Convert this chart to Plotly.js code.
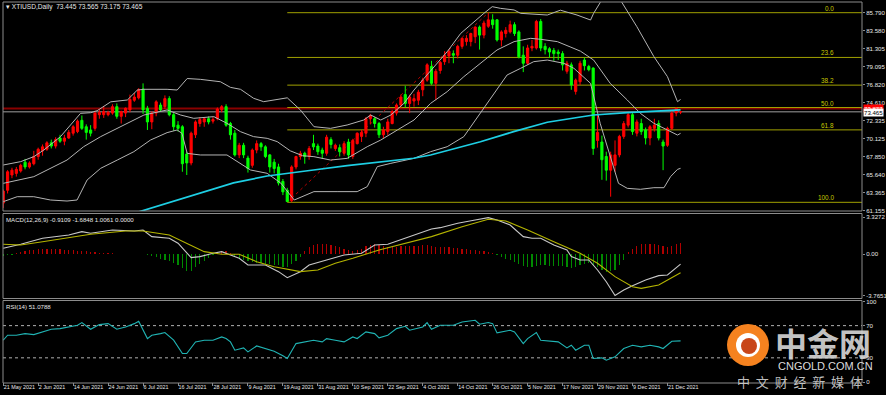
<!DOCTYPE html>
<html><head><meta charset="utf-8">
<script src="https://cdn.plot.ly/plotly-3.0.1.min.js"></script>
<style>html,body{margin:0;padding:0;background:#000;overflow:hidden}#chart{width:886px;height:395px}</style>
</head><body><div id="chart"></div>
<script>
// ---------- DATA ----------
const symbolTitle = "XTIUSD,Daily  73.445 73.565 73.175 73.465";
const macdTitle = "MACD(12,26,9) -0.9109 -1.6848 1.0061 0.0000";
const rsiTitle = "RSI(14) 51.0788";
const dateLabels = ["21 May 2021","2 Jun 2021","14 Jun 2021","24 Jun 2021","6 Jul 2021","16 Jul 2021","28 Jul 2021","9 Aug 2021","19 Aug 2021","31 Aug 2021","10 Sep 2021","22 Sep 2021","4 Oct 2021","14 Oct 2021","26 Oct 2021","5 Nov 2021","17 Nov 2021","29 Nov 2021","9 Dec 2021","21 Dec 2021"];
const dateLabelIdx = [0,8,16,24,32,40,48,56,64,72,80,88,96,104,112,120,128,136,144,152];
const priceTicks = [85.79,83.58,81.305,79.095,76.82,74.61,72.335,70.125,67.85,65.64,63.365,61.155];
const priceTickText = ["85.790","83.580","81.305","79.095","76.820","74.610","72.335","70.125","67.850","65.640","63.365","61.155"];
const macdTicks = [3.3272,0,-3.7651];
const macdTickText = ["3.3272","0.00","-3.7651"];
const rsiTicks = [100,70,30,0];
const rsiTickText = ["100","70","30","0"];

const openP = [62.1,63.7,65.6,65.8,66.1,67.2,66.6,67.0,67.9,68.6,68.8,69.6,69.2,70.2,69.8,70.2,70.8,71.0,72.4,71.6,
71.2,71.4,73.1,73.1,73.1,73.3,74.1,72.9,73.3,73.7,74.9,75.2,76.3,73.9,72.2,73.3,74.3,74.1,75.1,73.1,
71.8,71.6,68.2,67.1,70.6,72.0,72.2,72.6,72.3,72.6,73.7,74.1,72.0,70.8,68.1,69.3,67.7,66.8,68.7,69.5,
69.1,68.1,67.2,66.6,64.8,63.7,62.4,66.6,67.9,68.3,67.9,69.5,69.2,68.7,68.3,70.0,68.9,69.0,68.3,69.7,
67.9,69.5,70.4,70.8,72.6,72.6,72.0,70.6,71.0,72.0,73.3,74.3,75.6,74.5,74.8,74.9,76.2,77.4,79.1,77.0,
78.6,79.7,80.4,80.7,80.5,81.6,82.2,82.2,82.8,84.0,83.0,84.1,84.9,84.9,82.4,83.2,83.4,84.3,83.4,80.5,
79.5,81.4,81.4,84.7,81.6,81.3,81.1,80.9,80.7,78.5,79.3,76.0,77.2,79.9,79.1,78.9,69.9,69.7,67.9,66.2,
66.8,68.1,70.4,71.8,73.1,70.8,72.0,71.2,70.2,71.4,72.0,69.7,69.3,71.4,73.3,73.445];
const highP = [63.8,66.2,66.5,66.6,67.0,67.6,67.3,68.6,69.0,69.4,69.8,70.0,70.3,70.6,70.6,71.2,71.8,72.5,73.0,71.9,
71.8,73.6,73.8,74.2,73.6,74.4,74.5,73.6,74.0,75.6,75.8,76.4,77.0,74.2,73.5,74.9,74.6,75.5,75.4,73.3,
72.3,71.8,68.5,71.0,72.4,72.8,72.8,72.9,72.8,74.0,74.3,74.4,72.2,71.2,69.6,69.6,68.0,68.9,69.9,69.7,
69.3,68.2,67.6,67.0,65.1,64.0,66.8,68.0,68.6,68.5,69.2,70.6,69.5,69.0,70.6,70.3,69.5,69.4,69.8,70.1,
70.1,70.9,71.2,72.8,73.2,72.8,72.2,71.6,72.6,73.7,74.5,75.6,76.7,75.6,75.7,76.2,77.7,79.5,79.8,78.8,
79.8,81.0,81.2,81.1,81.8,82.7,83.0,83.3,84.1,84.2,84.8,85.8,85.6,85.0,83.6,84.0,84.8,84.6,83.6,81.6,
81.8,82.4,84.9,85.0,82.0,81.5,81.4,81.2,81.0,79.8,79.6,77.6,79.8,80.2,79.3,79.0,73.1,70.5,68.5,68.5,
69.9,70.6,72.3,73.3,73.3,72.5,72.6,71.5,71.8,72.6,72.4,70.0,71.6,73.5,74.0,73.565];
const lowP = [61.5,63.3,65.2,65.4,65.9,66.3,66.4,66.8,67.5,68.0,68.6,68.9,68.9,69.6,69.3,70.1,70.5,70.8,71.2,70.0,
70.4,71.1,72.6,72.7,72.9,73.1,72.6,72.0,72.8,73.4,74.7,75.0,73.2,71.2,71.3,72.9,73.5,73.8,72.9,71.1,
71.0,66.0,65.6,66.8,70.2,71.6,71.6,71.9,72.0,72.4,73.4,71.6,70.0,67.9,67.7,67.7,65.9,66.5,68.3,68.6,
67.7,65.9,65.8,64.3,63.1,62.2,62.2,66.3,67.5,67.0,67.5,68.7,68.1,67.6,68.0,68.9,68.6,67.9,68.0,67.6,
67.6,69.4,69.7,70.3,71.9,71.5,70.2,70.2,70.6,71.9,73.0,73.9,74.0,73.3,74.1,74.3,75.4,77.2,76.8,74.9,
78.2,79.3,79.5,79.5,80.1,81.3,81.7,81.6,82.0,81.2,82.6,83.9,83.8,82.2,81.6,82.7,83.2,82.9,80.1,78.4,
79.3,81.0,81.2,81.0,80.6,80.2,79.8,79.9,78.6,78.2,76.2,75.6,76.8,78.6,78.5,68.1,69.0,65.0,64.9,62.9,
66.0,67.8,70.1,71.5,70.6,70.4,70.6,69.4,69.3,71.0,69.9,66.2,69.1,71.2,72.9,73.175];
const closeP = [63.6,66.0,66.2,66.3,66.8,66.6,67.1,67.9,68.8,69.1,69.6,69.2,70.0,69.8,70.2,70.9,71.6,72.3,71.4,70.9,
70.8,73.3,73.4,73.5,73.4,74.1,72.9,73.5,73.9,75.0,75.3,76.2,73.7,72.2,73.3,74.7,73.7,75.1,73.1,71.6,
71.4,67.0,67.1,70.8,72.2,72.5,72.6,72.2,72.5,73.8,74.1,71.8,70.6,68.1,69.3,68.1,66.4,68.7,69.5,69.1,
67.9,66.6,66.4,64.6,63.5,62.3,66.6,67.9,68.3,67.9,68.9,69.1,68.5,68.3,70.3,69.4,69.3,68.5,69.5,68.1,
69.9,70.8,70.9,72.6,73.0,72.0,70.6,71.2,72.2,73.5,74.3,75.3,74.5,75.3,75.1,75.9,77.4,79.3,77.0,78.5,
79.6,80.5,81.0,80.5,81.6,82.6,82.6,83.2,84.0,83.0,84.5,84.9,84.3,82.4,83.4,83.6,84.3,83.2,80.3,79.5,
81.4,81.6,84.7,81.4,81.2,80.9,80.7,80.7,79.3,79.5,76.8,77.4,79.5,79.2,78.7,68.9,70.9,67.5,66.2,68.1,
68.1,70.4,72.0,73.1,71.0,72.2,71.0,70.2,71.6,71.8,70.2,69.2,71.4,73.3,73.9,73.465];

// Bollinger bands (read at sample positions)
const bbUpX = [0,4,7,9.3,13.1,15.8,17.7,20,21.5,24.6,28.4,30.7,32.2,37.5,39.8,42.1,45.1,49.7,52,54.3,57.3,59.6,61.9,65,68,71.1,74.9,78.7,82.5,84.1,86.4,88.7,91.7,94,96.3,99.4,101.6,104.7,107.7,110,111.9,113.8,116.9,118.4,124.5,127.5,131.3,134.4,135.1,136.6,137.4,139.5,141.6,145,148.9,152,154.3,155];
const bbUp  = [66.84,67.26,67.88,68.71,70.37,72.03,73.27,73.35,73.6,74.7,74.93,76.17,76.26,76.26,76.17,77.6,77.5,77.2,76.5,76.26,75.14,74.72,74.93,75.2,73.69,71.61,71.4,71.82,72.44,73.06,72.44,73.06,74.51,76.17,77.62,79.49,80.94,83.22,84.67,85.71,86.54,86.33,86.13,85.71,85.5,86.1,85.5,84.88,85.71,87.04,88.2,88.6,87.04,84.05,80.32,77.83,74.72,75.0];
const bbMidX = [0,7,14.6,18.4,22.3,26.1,29.9,32.2,37.5,40.6,43.6,48.2,51.2,54.3,57.3,60.4,62.7,65.7,68.5,71.1,74.9,78.7,83.3,86.4,90.2,94,97.8,101.6,105.4,109.2,113,116.9,120.7,123,126.8,129.9,132.1,135.1,138.9,142.8,145.8,148.9,152,154.3,155];
const bbMid  = [64.56,65.39,67.46,69.12,70.37,71.4,72.44,73.06,73.69,73.06,72.65,72.86,72.03,70.99,70.37,70.16,69.75,68.6,68.0,67.88,67.46,67.67,69.12,69.95,71.2,72.44,74.51,75.97,77.83,79.49,81.15,82.19,82.6,82.48,82.19,81.5,81.0,79.9,77.0,74.93,73.27,72.03,71.2,70.57,70.78];
const bbLowX = [0,3.2,7,10.8,14.6,16.9,19.2,22.3,26.1,29.9,33.7,37.5,39.8,40.9,42.1,45.1,51.2,54.3,56.6,60.4,63.5,66.6,71.1,76.4,81,83.3,85.6,88.7,94,97.8,101.6,105.4,109.2,112.3,115.3,118.4,121.4,124.5,128.3,130.6,134.4,136.6,138.9,140.8,142.8,145.8,148.9,151.2,152.7,154.3,155];
const bbLow  = [62.28,62.9,62.9,62.49,62.36,62.49,64.98,66.43,67.46,68.5,69.95,70.87,71.2,70.78,68.29,68.09,68.09,67.05,66.22,65.81,64.6,62.49,63.53,63.53,63.53,64.15,66.64,67.05,67.67,68.5,69.12,70.37,73.27,75.76,78.04,78.87,79.7,79.9,79.49,78.87,77.0,72.03,67.88,64.56,63.94,63.82,64.02,64.02,65.39,66.3,66.43];

// Moving average (cyan)
const maX = [30.7,37.5,45.1,52.7,60.4,65.7,71,78.7,86.3,93.9,97.8,101.6,109.2,116.8,124.5,132.1,135.1,142.8,150.4,155];
const maV = [60.96,62.12,63.36,64.62,65.47,65.81,66.22,66.76,67.18,67.68,68.09,68.62,69.74,70.99,72.16,72.81,73.06,73.35,73.6,73.69];

// Fibonacci
const fibLevels = [0,23.6,38.2,50,61.8,100];
const fibLabels = ["0.0","23.6","38.2","50.0","61.8","100.0"];
const fibHigh = 85.79, fibLow = 62.2, fibLowIdx = 65, fibHighIdx = 111;
const redLevel = 73.877, redLevelText = "73.877";
const bidLevel = 73.465, bidLevelText = "73.465";

// MACD
const macdX = [0,4,9,15,18,20,25,30,32,34,38,40,43,45,48,50,52,54,56,60,63,65,68,70,74,78,82,85,88,92,96,98,100,104,108,111,113,116,119,121,123,126,129,130,132,134,136,138,140,142,144,147,150,152,155];
const macdMain = [0.52,0.89,1.43,1.73,2.03,1.88,2.18,2.09,2.18,1.58,1.43,0.98,-0.32,-0.23,0.07,0.22,-0.08,-0.38,-0.99,-0.99,-1.59,-2.13,-1.59,-0.99,-0.53,-0.08,0.07,0.82,0.89,1.43,2.03,2.27,2.39,2.79,3.09,3.30,3.09,2.63,1.58,1.43,1.43,0.82,0.37,-0.23,-0.53,-0.53,-1.44,-2.5,-3.75,-3.25,-2.86,-2.34,-1.95,-1.89,-0.9109];
const sigX = [0,4,9,20,28,32,38,42,46,50,54,58,62,68,72,76,80,86,92,98,105,111,115,120,126,132,136,140,144,146,150,155];
const macdSig = [0.89,0.82,1.12,1.79,2.09,2.09,1.73,0.98,0.22,-0.02,-0.02,-0.69,-1.14,-1.59,-1.44,-0.83,-0.38,0.37,0.98,1.58,2.48,3.15,3.0,2.18,1.12,0.07,-0.83,-2.04,-2.95,-3.1,-2.8,-1.6848];
const macdHist = [-0.15,-0.1,-0.05,0.1,0.2,0.3,0.35,0.4,0.45,0.5,0.5,0.5,0.45,0.45,0.4,0.35,0.35,0.3,0.3,0.25,
0.2,0.15,0.12,0.1,0.08,0.08,0.05,0.05,0.05,0.04,0.03,0.05,0.03,-0.1,-0.2,-0.3,-0.4,-0.5,-0.6,-0.8,
-1.0,-1.3,-1.55,-1.5,-1.2,-0.9,-0.6,-0.35,-0.1,0.15,0.3,0.25,0.1,-0.2,-0.35,-0.5,-0.6,-0.7,-0.8,-0.85,
-0.9,-0.9,-0.95,-1.0,-1.2,-1.2,-0.9,-0.6,-0.3,0.3,0.6,0.8,0.9,0.95,0.9,0.85,0.75,0.6,0.45,0.35,
0.3,0.35,0.5,0.7,0.85,0.9,0.8,0.7,0.6,0.6,0.65,0.7,0.7,0.7,0.75,0.75,0.8,0.8,0.7,0.65,
0.6,0.6,0.6,0.55,0.55,0.5,0.45,0.4,0.35,0.3,0.25,0.15,0.1,-0.1,-0.25,-0.4,-0.5,-0.7,-0.9,-1.1,
-1.2,-1.15,-1.1,-1.0,-1.0,-1.05,-1.1,-1.1,-1.1,-1.2,-1.25,-1.2,-1.0,-0.9,-0.85,-1.0,-1.2,-1.4,-1.6,-1.55,
-1.4,-1.0,-0.5,0.2,0.5,0.75,0.9,0.95,0.95,0.9,0.85,0.7,0.6,0.75,0.95,1.0061];

// RSI
const rsiX = [0,1,3,5,7,9,11,13,15,17,18,19,20,22,24,26,28,30,31,33,34,36,37,39,41,42,44,46,48,50,51,52,53,55,56,58,60,62,64,65,67,69,71,73,74,76,78,80,81,83,85,86,88,90,92,93,96,97,98,100,103,105,108,109,111,112,113,116,117,119,120,122,123,127,129,130,131,133,134,135,137,138,140,142,144,146,148,150,151,153,155];
const rsiV = [51.9,58.1,58.1,60.1,58.9,62.2,65.5,66.3,68.4,70.5,73.8,69.6,65.5,71.3,72.5,65.5,68.4,72.5,75.4,53.9,58.1,60.1,61.4,51.9,35.4,35.4,49.8,51.9,51.9,56.0,54.0,49.8,39.5,42.4,37.4,44.8,41.6,38.3,32.5,29.2,47.7,49.8,51.9,49.8,53.9,51.9,49.8,56.0,54.0,62.2,60.1,54.8,58.1,66.3,69.2,64.3,68.4,73.8,65.5,70.5,70.5,74.6,76.6,71.7,73.8,72.5,61.0,64.3,62.2,47.7,53.9,61.4,51.9,49.8,42.4,45.7,39.5,45.7,45.7,29.2,30.0,27.1,31.2,41.6,45.7,43.6,45.7,43.6,41.6,50.6,51.0788];

// ---------- LAYOUT HELPERS (pixel -> paper) ----------
const W = 886, H = 395, ML = 3, MR = 24, MT = 2, MB = 13;
const PW = W - ML - MR, PH = H - MT - MB;
const fx = x => (x - ML) / PW;
const fy = y => (H - MB - y) / PH;
const xRange = [-0.05, -0.05 + PW / 4.37];
const idx = closeP.map((_, i) => i);

const fam = "Liberation Sans, Arial, sans-serif";
const axFont = {family: fam, size: 6.1, color: "#e8e8e8"};

const traces = [
  {type: "candlestick", x: idx, open: openP, high: highP, low: lowP, close: closeP, xaxis: "x", yaxis: "y",
   increasing: {line: {color: "#ff0000", width: 1}, fillcolor: "#ff0000"},
   decreasing: {line: {color: "#00ff00", width: 1}, fillcolor: "#00ff00"},
   whiskerwidth: 0, hoverinfo: "skip"},
  {type: "scatter", mode: "lines", x: bbUpX, y: bbUp, yaxis: "y", line: {color: "#b4b4b4", width: 1}, hoverinfo: "skip"},
  {type: "scatter", mode: "lines", x: bbMidX, y: bbMid, yaxis: "y", line: {color: "#b4b4b4", width: 1}, hoverinfo: "skip"},
  {type: "scatter", mode: "lines", x: bbLowX, y: bbLow, yaxis: "y", line: {color: "#b4b4b4", width: 1}, hoverinfo: "skip"},
  {type: "scatter", mode: "lines", x: maX, y: maV, yaxis: "y", line: {color: "#1ecfe4", width: 1.7}, hoverinfo: "skip"},
  {type: "bar", x: idx, y: macdHist, yaxis: "y2", width: 0.28,
   marker: {color: macdHist.map(v => v >= 0 ? "#b00000" : "#008a00"), line: {width: 0}}, hoverinfo: "skip"},
  {type: "scatter", mode: "lines", x: macdX, y: macdMain, yaxis: "y2", line: {color: "#c8c8c8", width: 1.1}, hoverinfo: "skip"},
  {type: "scatter", mode: "lines", x: sigX, y: macdSig, yaxis: "y2", line: {color: "#b4b400", width: 1.1}, hoverinfo: "skip"},
  {type: "scatter", mode: "lines", x: rsiX, y: rsiV, yaxis: "y3", line: {color: "#20b4b4", width: 1.1}, hoverinfo: "skip"}
];

const shapes = [];
const annotations = [];
// panel borders
[[2, 211], [213.5, 298.5], [300.5, 383]].forEach(([t, b]) => {
  shapes.push({type: "rect", xref: "paper", yref: "paper", x0: fx(3), x1: fx(862), y0: fy(b), y1: fy(t),
    line: {color: "#8c8c8c", width: 1}, fillcolor: "rgba(0,0,0,0)", layer: "above"});
});
// fibonacci levels
fibLevels.forEach((lv, k) => {
  const v = fibHigh - (fibHigh - fibLow) * lv / 100;
  shapes.push({type: "line", xref: "x", yref: "y", x0: fibLowIdx, x1: xRange[1], y0: v, y1: v,
    line: {color: "#a0a000", width: 1}, layer: "below"});
  annotations.push({xref: "paper", yref: "y", x: fx(836), y: v, xanchor: "right", yanchor: "bottom",
    text: fibLabels[k], showarrow: false, font: {family: fam, size: 6.4, color: "#c8c800"}, yshift: -1});
});
shapes.push({type: "line", xref: "x", yref: "y", x0: fibLowIdx, y0: fibLow, x1: fibHighIdx, y1: fibHigh,
  line: {color: "#b00000", width: 1, dash: "dot"}, layer: "below"});
// horizontal lines
shapes.push({type: "line", xref: "paper", yref: "y", x0: 0, x1: 1, y0: redLevel, y1: redLevel,
  line: {color: "#8a0000", width: 2}, layer: "below"});
shapes.push({type: "line", xref: "paper", yref: "y", x0: 0, x1: 1, y0: bidLevel, y1: bidLevel,
  line: {color: "#6a6a6a", width: 1.5}, layer: "below"});
annotations.push({xref: "paper", yref: "y", x: 1, y: redLevel, xanchor: "left", yanchor: "middle", xshift: 1,
  text: redLevelText, showarrow: false, bgcolor: "#ff0000", borderpad: 0, font: {family: fam, size: 6.1, color: "#ffffff"}});
annotations.push({xref: "paper", yref: "y", x: 1, y: bidLevel, xanchor: "left", yanchor: "middle", xshift: 1, yshift: -1,
  text: bidLevelText, showarrow: false, bgcolor: "#ffffff", borderpad: 0, font: {family: fam, size: 6.1, color: "#000000"}});
// RSI levels
[70, 30].forEach(v => shapes.push({type: "line", xref: "paper", yref: "y3", x0: 0, x1: 1, y0: v, y1: v,
  line: {color: "#b0b0b0", width: 1, dash: "dot"}, layer: "below"}));
// titles
annotations.push({xref: "paper", yref: "paper", x: fx(4), y: fy(7.5), xanchor: "left", yanchor: "middle",
  text: "▾ " + symbolTitle, showarrow: false, font: {family: fam, size: 6.6, color: "#e8e8e8"}});
annotations.push({xref: "paper", yref: "paper", x: fx(4), y: fy(219), xanchor: "left", yanchor: "middle",
  text: macdTitle, showarrow: false, font: {family: fam, size: 6.1, color: "#e8e8e8"}});
annotations.push({xref: "paper", yref: "paper", x: fx(4), y: fy(306), xanchor: "left", yanchor: "middle",
  text: rsiTitle, showarrow: false, font: {family: fam, size: 6.1, color: "#e8e8e8"}});
// watermark
shapes.push({type: "circle", xref: "paper", yref: "paper", x0: fx(727), x1: fx(769), y0: fy(366), y1: fy(324),
  fillcolor: "#f5821f", line: {width: 0}, layer: "above"});
shapes.push({type: "circle", xref: "paper", yref: "paper", x0: fx(736), x1: fx(760), y0: fy(357), y1: fy(333),
  fillcolor: "#ffffff", line: {width: 0}, layer: "above"});
shapes.push({type: "circle", xref: "paper", yref: "paper", x0: fx(741), x1: fx(757), y0: fy(354), y1: fy(338),
  fillcolor: "#c8461a", line: {width: 0}, layer: "above"});
annotations.push({xref: "paper", yref: "paper", x: fx(823), y: fy(342), xanchor: "center", yanchor: "middle",
  text: "<b>中金网</b>", showarrow: false, font: {family: "Noto Sans CJK SC", size: 32, color: "rgba(215,215,215,0.92)"}});
annotations.push({xref: "paper", yref: "paper", x: fx(825), y: fy(366), xanchor: "center", yanchor: "middle",
  text: "CNGOLD.COM.CN", showarrow: false, font: {family: "Liberation Sans, Arial", size: 11, color: "rgba(235,235,235,0.95)"}});
annotations.push({xref: "paper", yref: "paper", x: fx(800), y: fy(381), xanchor: "center", yanchor: "middle",
  text: "中\u00a0\u00a0文\u00a0\u00a0财\u00a0\u00a0经\u00a0\u00a0新\u00a0\u00a0媒\u00a0\u00a0体", showarrow: false,
  font: {family: "Noto Sans CJK SC", size: 13, color: "rgba(210,210,210,0.92)"}});

const yCommon = {side: "right", anchor: "x", showgrid: false, zeroline: false, ticks: "outside", ticklen: 2,
  tickcolor: "#8c8c8c", tickfont: axFont, fixedrange: true, automargin: false};

const layout = {
  width: W, height: H, margin: {l: ML, r: MR, t: MT, b: MB, pad: 0},
  paper_bgcolor: "#000000", plot_bgcolor: "#000000", showlegend: false, hovermode: false,
  bargap: 0,
  xaxis: {range: xRange, anchor: "y3", showgrid: false, zeroline: false, rangeslider: {visible: false},
    tickvals: dateLabelIdx, ticktext: dateLabels, ticks: "outside", ticklen: 3, tickcolor: "#8c8c8c",
    tickangle: 0, automargin: false, tickfont: {family: fam, size: 5.4, color: "#e8e8e8"},
    ticklabelposition: "outside right"},
  yaxis: Object.assign({}, yCommon, {domain: [fy(211), fy(2)], range: [61.12, 87.12], tickvals: priceTicks, ticktext: priceTickText}),
  yaxis2: Object.assign({}, yCommon, {domain: [fy(298), fy(214)], range: [-3.973, 3.626], tickvals: macdTicks, ticktext: macdTickText}),
  yaxis3: Object.assign({}, yCommon, {domain: [fy(382), fy(301)], range: [0, 100.6], tickvals: rsiTicks, ticktext: rsiTickText}),
  shapes: shapes, annotations: annotations
};
Plotly.newPlot("chart", traces, layout, {displayModeBar: false, staticPlot: true});
</script>
</body></html>
